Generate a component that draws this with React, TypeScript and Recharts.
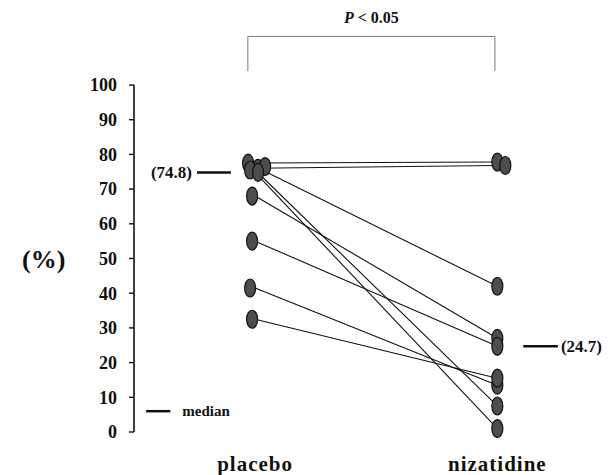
import React from "react";
import {
  LineChart,
  Line,
  XAxis,
  YAxis,
  ReferenceLine,
} from "recharts";

// paired values per subject (%)
const subjects = ["s1", "s2", "s3", "s4", "s5", "s6", "s7", "s8", "s9"];
const placeboValues = [77.5, 76, 76.5, 75.5, 74.8, 68, 55, 41.5, 32.5];
const nizatidineValues = [77.8, 76.8, 42, 7.5, 1, 27, 24.7, 13.5, 15.5];
const groupLabels = ["placebo", "nizatidine"];
const yTicks = [0, 10, 20, 30, 40, 50, 60, 70, 80, 90, 100];
const medianPlacebo = 74.8;
const medianNizatidine = 24.7;

const FONT = "'Liberation Serif', 'Times New Roman', serif";

const rows = [
  { x: 1, ...Object.fromEntries(subjects.map((s, i) => [s, placeboValues[i]])) },
  { x: 2, ...Object.fromEntries(subjects.map((s, i) => [s, nizatidineValues[i]])) },
];

// small horizontal offsets so overlapping dots read as a cluster
const placeboShift = [-7, 3, 10, -5, 3, -3, -3, -5, -3];
const nizShift = [0, 8, 0, 0, 0, 0, 0, 0, 0];

const makeDot = (i: number) => (p: any) => {
  const dx = p.index === 0 ? placeboShift[i] : nizShift[i];
  return (
    <ellipse
      key={`${i}-${p.index}`}
      cx={p.cx + dx}
      cy={p.cy}
      rx={5.5}
      ry={9}
      fill="#4d4d4d"
      stroke="#111"
      strokeWidth={1.2}
    />
  );
};

const GroupTick = (props: any) => {
  const { x, y, payload } = props;
  return (
    <text
      x={x}
      y={y + 39}
      textAnchor="middle"
      fontFamily={FONT}
      fontWeight="bold"
      fontSize={21}
      letterSpacing={1}
      fill="#111"
    >
      {groupLabels[payload.value - 1]}
    </text>
  );
};

export default function App() {
  return (
    <div style={{ width: 600, height: 470, background: "#fff" }}>
      <LineChart
        width={600}
        height={470}
        data={rows}
        margin={{ top: 77, right: 38, bottom: 16, left: 0 }}
      >
        <XAxis
          type="number"
          dataKey="x"
          domain={[0.5, 2.3]}
          ticks={[1, 2]}
          axisLine={false}
          tickLine={false}
          tickSize={0}
          tickMargin={0}
          height={30}
          tick={<GroupTick />}
        />
        <YAxis
          type="number"
          domain={[0, 100]}
          ticks={yTicks}
          width={126}
          axisLine={{ stroke: "#111", strokeWidth: 1.6 }}
          tickLine={{ stroke: "#111", strokeWidth: 1.4 }}
          tickSize={5}
          tickMargin={12}
          tick={{ fill: "#111", fontSize: 18, fontWeight: "bold", fontFamily: FONT }}
          label={{
            value: "(%)",
            position: "insideLeft",
            offset: 14,
            fill: "#111",
            fontSize: 26,
            fontWeight: "bold",
            fontFamily: FONT,
          }}
        />

        {/* significance bracket */}
        <ReferenceLine
          segment={[{ x: 0.97, y: 114 }, { x: 1.99, y: 114 }]}
          stroke="#777"
          strokeWidth={1}
          ifOverflow="visible"
          label={(p: any) => {
            const vb = p.viewBox;
            return (
              <text
                x={vb.x + vb.width / 2}
                y={vb.y - 13}
                textAnchor="middle"
                fontFamily={FONT}
                fontWeight="bold"
                fontSize={16}
                fill="#111"
              >
                <tspan fontStyle="italic">P</tspan> &lt; 0.05
              </text>
            );
          }}
        />
        <ReferenceLine
          segment={[{ x: 0.97, y: 114 }, { x: 0.97, y: 104 }]}
          stroke="#777"
          strokeWidth={1}
          ifOverflow="visible"
        />
        <ReferenceLine
          segment={[{ x: 1.99, y: 114 }, { x: 1.99, y: 104 }]}
          stroke="#777"
          strokeWidth={1}
          ifOverflow="visible"
        />

        {/* medians */}
        <ReferenceLine
          segment={[{ x: 0.76, y: medianPlacebo }, { x: 0.9, y: medianPlacebo }]}
          stroke="#111"
          strokeWidth={2.5}
          ifOverflow="visible"
          label={(p: any) => {
            const vb = p.viewBox;
            return (
              <text
                x={vb.x - 5}
                y={vb.y + 6}
                textAnchor="end"
                fontFamily={FONT}
                fontWeight="bold"
                fontSize={17}
                fill="#111"
              >
                ({medianPlacebo})
              </text>
            );
          }}
        />
        <ReferenceLine
          segment={[{ x: 2.107, y: medianNizatidine }, { x: 2.25, y: medianNizatidine }]}
          stroke="#111"
          strokeWidth={2.5}
          ifOverflow="visible"
          label={(p: any) => {
            const vb = p.viewBox;
            return (
              <text
                x={vb.x + vb.width + 3}
                y={vb.y + 6}
                textAnchor="start"
                fontFamily={FONT}
                fontWeight="bold"
                fontSize={17}
                fill="#111"
              >
                ({medianNizatidine})
              </text>
            );
          }}
        />

        {/* legend */}
        <ReferenceLine
          segment={[{ x: 0.55, y: 6 }, { x: 0.65, y: 6 }]}
          stroke="#111"
          strokeWidth={2.5}
          ifOverflow="visible"
          label={(p: any) => {
            const vb = p.viewBox;
            return (
              <text
                x={vb.x + vb.width + 12}
                y={vb.y + 5}
                textAnchor="start"
                fontFamily={FONT}
                fontWeight="bold"
                fontSize={15}
                fill="#111"
              >
                median
              </text>
            );
          }}
        />

        {subjects.map((s, i) => (
          <Line
            key={s}
            dataKey={s}
            type="linear"
            stroke="#111"
            strokeWidth={1.1}
            dot={makeDot(i)}
            activeDot={false}
            isAnimationActive={false}
          />
        ))}
      </LineChart>
    </div>
  );
}
